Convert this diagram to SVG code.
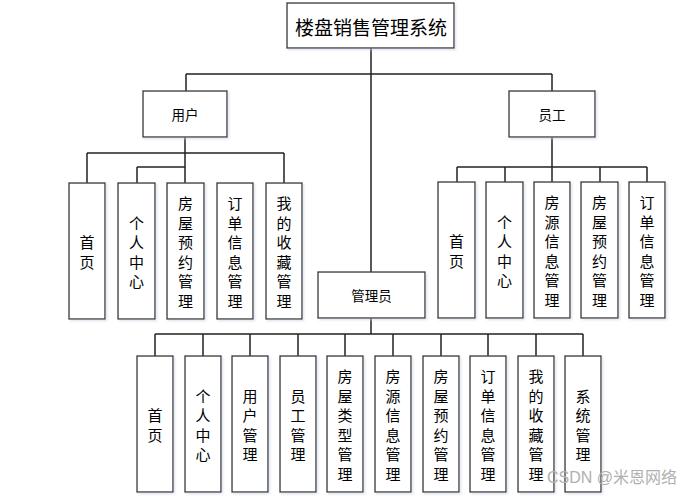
<svg xmlns="http://www.w3.org/2000/svg" width="698" height="496" viewBox="0 0 698 496">
<style>
.box{fill:#fff;stroke:#333;stroke-width:1.3;filter:url(#sh)}
.t{font-family:"Noto Sans CJK SC","Noto Sans",sans-serif;fill:#000;text-anchor:middle;dominant-baseline:central}
.v{font-size:15px}
.h{font-size:13.5px}
.c{fill:none;stroke:#222;stroke-width:1.5}
.wm{font-family:"Liberation Sans","Noto Sans CJK SC",sans-serif;font-size:16px;fill:#b0b0b0}
</style>
<defs>
<filter id="sh" x="-10%" y="-10%" width="130%" height="130%">
<feDropShadow dx="1.5" dy="1.5" stdDeviation="1" flood-color="#c8d0e0" flood-opacity="0.6"/>
</filter>
</defs>
<rect width="698" height="496" fill="#fff"/>
<g id="connectors">
<path class="c" d="M371,48V272M186,74H552M186,74V91M552,74V91"/>
<path class="c" d="M185,137V183M87,153H284M87,153V183M284,153V183M137,167H185M137,167V183"/>
<path class="c" d="M552,137V182M457,167H647M457,167V182M505,167V182M600,167V182M647,167V182"/>
<path class="c" d="M371,318V334M155,334H583M155,334V356M203,334V356M250,334V356M298,334V356M345,334V356M393,334V356M441,334V356M488,334V356M536,334V356M583,334V356"/>
</g>
<g id="root"><rect class="box" x="287" y="3" width="167" height="45"/><text class="t" x="371" y="26" font-size="19">楼盘销售管理系统</text></g>
<g id="user"><rect class="box" x="143" y="91" width="84" height="46"/><text class="t h" x="185" y="114">用户</text></g>
<g id="staff"><rect class="box" x="509" y="91" width="86" height="46"/><text class="t h" x="552" y="114">员工</text></g>
<g id="admin"><rect class="box" x="318" y="272" width="107" height="46"/><text class="t h" x="371.5" y="295">管理员</text></g>

<g id="u1"><rect class="box" x="69" y="183" width="36" height="136"/><text class="t v"><tspan x="87" y="241">首</tspan><tspan x="87" y="260.5">页</tspan></text></g>
<g id="u2"><rect class="box" x="118" y="183" width="37" height="136"/><text class="t v"><tspan x="136.5" y="221.5">个</tspan><tspan x="136.5" y="241">人</tspan><tspan x="136.5" y="260.5">中</tspan><tspan x="136.5" y="280">心</tspan></text></g>
<g id="u3"><rect class="box" x="167" y="183" width="37" height="136"/><text class="t v"><tspan x="185.5" y="202">房</tspan><tspan x="185.5" y="221.5">屋</tspan><tspan x="185.5" y="241">预</tspan><tspan x="185.5" y="260.5">约</tspan><tspan x="185.5" y="280">管</tspan><tspan x="185.5" y="299.5">理</tspan></text></g>
<g id="u4"><rect class="box" x="217" y="183" width="36" height="136"/><text class="t v"><tspan x="235" y="202">订</tspan><tspan x="235" y="221.5">单</tspan><tspan x="235" y="241">信</tspan><tspan x="235" y="260.5">息</tspan><tspan x="235" y="280">管</tspan><tspan x="235" y="299.5">理</tspan></text></g>
<g id="u5"><rect class="box" x="266" y="183" width="36" height="136"/><text class="t v"><tspan x="284" y="202">我</tspan><tspan x="284" y="221.5">的</tspan><tspan x="284" y="241">收</tspan><tspan x="284" y="260.5">藏</tspan><tspan x="284" y="280">管</tspan><tspan x="284" y="299.5">理</tspan></text></g>

<g id="s1"><rect class="box" x="438" y="182" width="37" height="136"/><text class="t v"><tspan x="456.5" y="240">首</tspan><tspan x="456.5" y="259.5">页</tspan></text></g>
<g id="s2"><rect class="box" x="486" y="182" width="37" height="136"/><text class="t v"><tspan x="504.5" y="220.5">个</tspan><tspan x="504.5" y="240">人</tspan><tspan x="504.5" y="259.5">中</tspan><tspan x="504.5" y="279">心</tspan></text></g>
<g id="s3"><rect class="box" x="534" y="182" width="36" height="136"/><text class="t v"><tspan x="552" y="201">房</tspan><tspan x="552" y="220.5">源</tspan><tspan x="552" y="240">信</tspan><tspan x="552" y="259.5">息</tspan><tspan x="552" y="279">管</tspan><tspan x="552" y="298.5">理</tspan></text></g>
<g id="s4"><rect class="box" x="581" y="182" width="37" height="136"/><text class="t v"><tspan x="599.5" y="201">房</tspan><tspan x="599.5" y="220.5">屋</tspan><tspan x="599.5" y="240">预</tspan><tspan x="599.5" y="259.5">约</tspan><tspan x="599.5" y="279">管</tspan><tspan x="599.5" y="298.5">理</tspan></text></g>
<g id="s5"><rect class="box" x="629" y="182" width="36" height="136"/><text class="t v"><tspan x="647" y="201">订</tspan><tspan x="647" y="220.5">单</tspan><tspan x="647" y="240">信</tspan><tspan x="647" y="259.5">息</tspan><tspan x="647" y="279">管</tspan><tspan x="647" y="298.5">理</tspan></text></g>

<g id="a1"><rect class="box" x="137" y="356" width="36" height="136"/><text class="t v"><tspan x="155" y="414">首</tspan><tspan x="155" y="433.5">页</tspan></text></g>
<g id="a2"><rect class="box" x="185" y="356" width="36" height="136"/><text class="t v"><tspan x="203" y="394.5">个</tspan><tspan x="203" y="414">人</tspan><tspan x="203" y="433.5">中</tspan><tspan x="203" y="453">心</tspan></text></g>
<g id="a3"><rect class="box" x="232" y="356" width="36" height="136"/><text class="t v"><tspan x="250" y="394.5">用</tspan><tspan x="250" y="414">户</tspan><tspan x="250" y="433.5">管</tspan><tspan x="250" y="453">理</tspan></text></g>
<g id="a4"><rect class="box" x="280" y="356" width="36" height="136"/><text class="t v"><tspan x="298" y="394.5">员</tspan><tspan x="298" y="414">工</tspan><tspan x="298" y="433.5">管</tspan><tspan x="298" y="453">理</tspan></text></g>
<g id="a5"><rect class="box" x="327" y="356" width="36" height="136"/><text class="t v"><tspan x="345" y="375">房</tspan><tspan x="345" y="394.5">屋</tspan><tspan x="345" y="414">类</tspan><tspan x="345" y="433.5">型</tspan><tspan x="345" y="453">管</tspan><tspan x="345" y="472.5">理</tspan></text></g>
<g id="a6"><rect class="box" x="375" y="356" width="36" height="136"/><text class="t v"><tspan x="393" y="375">房</tspan><tspan x="393" y="394.5">源</tspan><tspan x="393" y="414">信</tspan><tspan x="393" y="433.5">息</tspan><tspan x="393" y="453">管</tspan><tspan x="393" y="472.5">理</tspan></text></g>
<g id="a7"><rect class="box" x="423" y="356" width="36" height="136"/><text class="t v"><tspan x="441" y="375">房</tspan><tspan x="441" y="394.5">屋</tspan><tspan x="441" y="414">预</tspan><tspan x="441" y="433.5">约</tspan><tspan x="441" y="453">管</tspan><tspan x="441" y="472.5">理</tspan></text></g>
<g id="a8"><rect class="box" x="470" y="356" width="36" height="136"/><text class="t v"><tspan x="488" y="375">订</tspan><tspan x="488" y="394.5">单</tspan><tspan x="488" y="414">信</tspan><tspan x="488" y="433.5">息</tspan><tspan x="488" y="453">管</tspan><tspan x="488" y="472.5">理</tspan></text></g>
<g id="a9"><rect class="box" x="518" y="356" width="36" height="136"/><text class="t v"><tspan x="536" y="375">我</tspan><tspan x="536" y="394.5">的</tspan><tspan x="536" y="414">收</tspan><tspan x="536" y="433.5">藏</tspan><tspan x="536" y="453">管</tspan><tspan x="536" y="472.5">理</tspan></text></g>
<g id="a10"><rect class="box" x="565" y="356" width="36" height="136"/><text class="t v"><tspan x="583" y="394.5">系</tspan><tspan x="583" y="414">统</tspan><tspan x="583" y="433.5">管</tspan><tspan x="583" y="453">理</tspan></text></g>

<text class="wm" x="547" y="483">CSDN @米恩网络</text>
</svg>
